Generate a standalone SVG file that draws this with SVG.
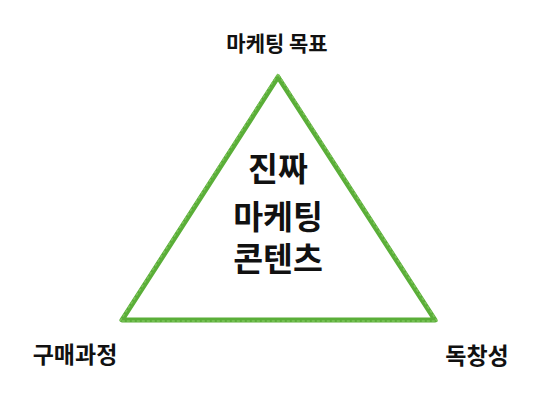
<svg xmlns="http://www.w3.org/2000/svg" width="539" height="402" viewBox="0 0 539 402">
<style>
.t{font-family:"Noto Sans CJK KR","Noto Sans",sans-serif;font-weight:bold;fill:#111;text-anchor:middle}
.s{font-size:21px}
.m{font-size:23px}
.b{font-size:32.5px}
.tri{fill:none;stroke:#5aae38;stroke-width:5;stroke-linejoin:round;stroke-linecap:round}
.tri2{fill:none;stroke:#7cc35a;stroke-width:1.5;stroke-dasharray:3 2;stroke-linejoin:round}
</style>
<rect width="539" height="402" fill="#fff"/>
<g id="connectors">
<path class="tri" d="M278,77 L122,320 L435,320 Z"/>
<path class="tri2" d="M278,74 L120,321 L437,321 Z"/>
</g>
<g id="top"><text class="t s" x="277" y="51">마케팅 목표</text></g>
<g id="center">
<text class="t b" x="278" y="181">진짜</text>
<text class="t b" x="278" y="229">마케팅</text>
<text class="t b" x="278" y="271">콘텐츠</text>
</g>
<g id="left"><text class="t m" x="75" y="363">구매과정</text></g>
<g id="right"><text class="t m" x="477" y="364">독창성</text></g>
</svg>
